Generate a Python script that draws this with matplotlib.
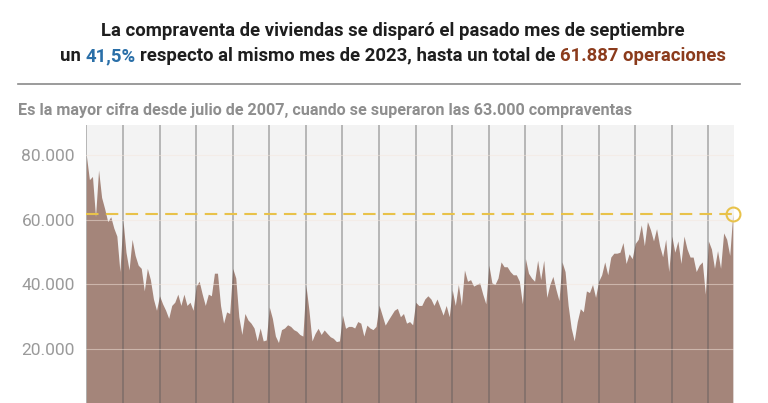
import numpy as np
import matplotlib.pyplot as plt
from matplotlib.lines import Line2D

plt.rcParams['font.family'] = ['Roboto', 'DejaVu Sans']

# compraventa de viviendas, datos mensuales (ene 2007 - sep 2024)
v2007 = [80000, 72500, 73500, 61000, 75500, 67000, 63500, 59500, 61000, 57500, 55000, 44000]
v2008 = [60000, 50000, 44500, 54000, 49000, 46000, 45000, 38000, 45000, 41500, 35500, 32000]
v2009 = [36500, 34000, 32000, 29500, 33500, 34500, 37000, 33500, 37000, 33500, 34500, 32000]
v2010 = [39500, 41000, 37000, 33500, 37000, 36500, 43500, 43500, 33500, 28000, 31500, 31000]
v2011 = [45000, 42000, 30000, 24500, 31000, 29000, 28000, 26500, 22500, 26500, 22500, 22800]
v2012 = [33000, 29500, 24000, 22000, 26000, 26500, 27500, 27000, 26000, 25500, 24500, 24000]
v2013 = [39800, 32000, 22500, 24800, 26400, 24500, 25900, 24800, 23800, 23300, 22300, 22500]
v2014 = [30500, 26400, 27000, 27000, 26500, 28500, 28000, 24000, 27400, 26500, 26000, 27000]
v2015 = [33600, 30500, 27400, 29000, 30500, 32000, 32600, 30000, 31000, 28000, 28500, 27500]
v2016 = [34500, 33500, 33500, 35500, 36500, 35500, 33500, 35500, 33000, 30500, 33500, 30000]
v2017 = [38300, 33500, 40000, 33500, 44500, 41000, 41500, 39500, 40000, 40500, 37000, 34000]
v2018 = [46000, 40500, 40000, 42000, 47000, 45500, 45500, 44000, 43000, 43000, 41000, 34000]
v2019 = [48000, 43500, 42000, 41000, 47500, 41500, 47500, 36000, 40000, 42500, 38500, 35000]
v2020 = [47000, 44000, 33500, 26500, 22500, 28500, 32500, 31500, 38000, 37500, 40000, 36000]
v2021 = [41000, 43000, 47000, 43000, 48500, 49700, 49700, 50000, 53000, 46500, 49500, 48000]
v2022 = [52700, 54000, 58500, 52000, 59500, 57000, 53500, 57300, 52000, 48600, 54000, 44000]
v2023 = [55000, 50000, 53500, 46500, 55000, 51000, 48500, 48500, 44000, 46000, 47000, 37000]
v2024 = [53500, 51000, 45000, 50500, 45000, 56000, 54000, 49000, 61887]

ventas = np.array(v2007 + v2008 + v2009 + v2010 + v2011 + v2012 + v2013 + v2014 + v2015
                  + v2016 + v2017 + v2018 + v2019 + v2020 + v2021 + v2022 + v2023 + v2024)
fechas = 2007 + np.arange(len(ventas)) / 12
anios = list(range(2007, 2025))
yticks = [20000, 40000, 60000, 80000]
ytick_labels = ['20.000', '40.000', '60.000', '80.000']

W, H = 768, 403
NEGRO = '#1e1e1e'
AZUL = '#2a6fa8'
MARRON = '#8b3b1c'
AMARILLO = '#e8c24a'

fig = plt.figure(figsize=(W / 100, H / 100), dpi=100)
ax = fig.add_axes([86 / W, 0, (734 - 86) / W, (H - 125) / H])
ax.set_facecolor('#f3f3f3')

ax.fill_between(fechas, ventas, 0, color='#a4857a', lw=0, zorder=2)
for a in anios:
    ax.axvline(a, color='#555555', alpha=0.45, lw=1.2, zorder=3)
for v in yticks:
    ax.axhline(v, color='#f4e6dc', alpha=0.5, lw=0.8, zorder=3)

# linea de referencia con el ultimo dato
ax.plot([fechas[0], fechas[-1]], [ventas[-1], ventas[-1]], color=AMARILLO, lw=1.5,
        dashes=(6, 3.5), zorder=4)
ax.plot(fechas[-1], ventas[-1], 'o', mfc='none', mec=AMARILLO, mew=1.5, ms=10,
        zorder=5, clip_on=False)

ax.set_xlim(2006.99, 2024.70)
ax.set_ylim(3250, 89450)
ax.set_xticks([])
ax.set_yticks(yticks)
ax.set_yticklabels(ytick_labels)
ax.tick_params(axis='y', length=0, pad=8, labelsize=12.5, labelcolor='#9a9a9a')
for s in ax.spines.values():
    s.set_visible(False)


def linea_color(partes, y_px, size):
    r = fig.canvas.get_renderer()
    prueba = [fig.text(0, 0, t, fontsize=size, fontweight='bold') for t in ('x x', 'xx')]
    esp = prueba[0].get_window_extent(r).width - prueba[1].get_window_extent(r).width
    for t in prueba:
        t.remove()
    textos = [fig.text(0, 1 - y_px / H, t, color=c, fontsize=size, fontweight='bold', va='center')
              for t, c in partes]
    anchos = [t.get_window_extent(r).width for t in textos]
    total = sum(anchos) + esp * (len(partes) - 1)
    x = 393 - total / 2
    for t, w in zip(textos, anchos):
        t.set_x(x / W)
        x += w + esp


linea_color([('La compraventa de viviendas se disparó el pasado mes de septiembre', NEGRO)], 31, 13.3)
linea_color([('un', NEGRO), ('41,5%', AZUL),
             ('respecto al mismo mes de 2023, hasta un total de', NEGRO),
             ('61.887 operaciones', MARRON)], 56, 13.3)

fig.add_artist(Line2D([18 / W, 740 / W], [1 - 84 / H] * 2, color='#8a8a8a', lw=1.2,
                      transform=fig.transFigure))
fig.text(18 / W, 1 - 110 / H,
         'Es la mayor cifra desde julio de 2007, cuando se superaron las 63.000 compraventas',
         color='#8e8e8e', fontsize=11.6, fontweight='bold', va='center')

fig.savefig('out.png', dpi=100)
